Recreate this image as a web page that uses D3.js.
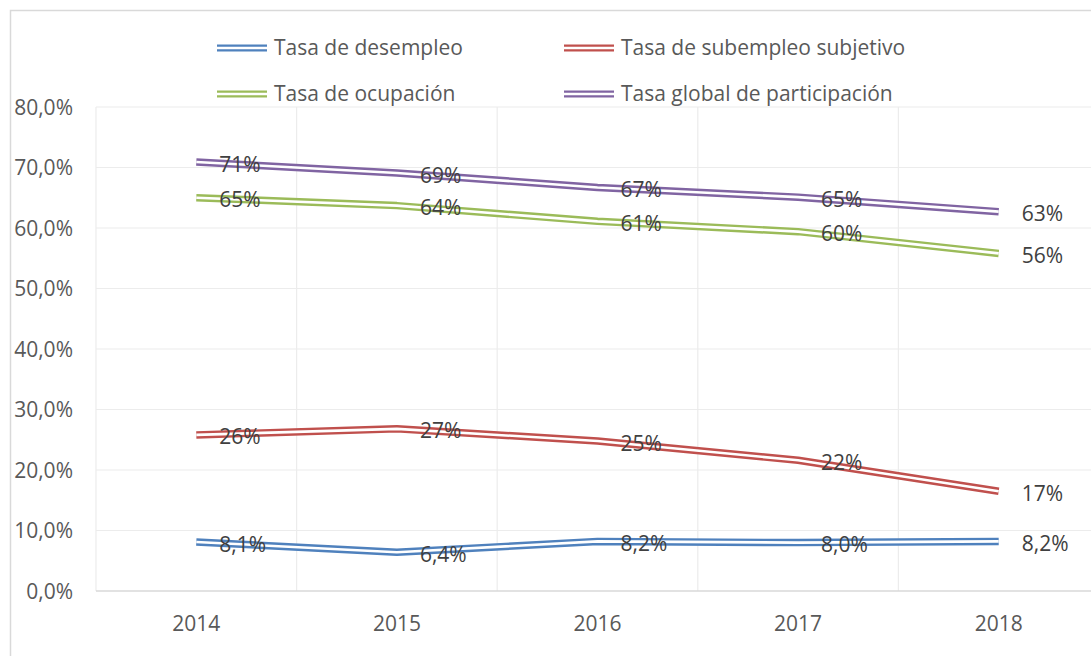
<!DOCTYPE html>
<html><head><meta charset="utf-8">
<script src="https://cdn.jsdelivr.net/npm/d3@7"></script>
<style>html,body{margin:0;padding:0;background:#fff;}svg{display:block;}</style>
</head><body>
<svg id="c" width="1091" height="656"></svg>
<script>
const years = ["2014","2015","2016","2017","2018"];
const desempleo = [8.1, 6.4, 8.2, 8.0, 8.2];
const subempleo = [25.8, 26.8, 24.8, 21.6, 16.5];
const ocupacion = [65.0, 63.7, 61.1, 59.4, 55.8];
const participacion = [70.9, 69.1, 66.7, 65.1, 62.7];
const labelsDesempleo = ["8,1%","6,4%","8,2%","8,0%","8,2%"];
const labelsSubempleo = ["26%","27%","25%","22%","17%"];
const labelsOcupacion = ["65%","64%","61%","60%","56%"];
const labelsParticipacion = ["71%","69%","67%","65%","63%"];
const yTicks = [0,10,20,30,40,50,60,70,80];
const seriesNames = ["Tasa de desempleo","Tasa de subempleo subjetivo","Tasa de ocupación","Tasa global de participación"];
const colors = ["#4f81bd","#c0504d","#9bbb59","#8064a2"];

const series = [
  {name: seriesNames[0], values: desempleo, labels: labelsDesempleo, color: colors[0]},
  {name: seriesNames[1], values: subempleo, labels: labelsSubempleo, color: colors[1]},
  {name: seriesNames[2], values: ocupacion, labels: labelsOcupacion, color: colors[2]},
  {name: seriesNames[3], values: participacion, labels: labelsParticipacion, color: colors[3]}
];

const FONT = "'Open Sans', sans-serif";
const svg = d3.select("#c");
const pLeft = 96, pRight = 1099, pTop = 107, pBottom = 591;

const x = d3.scaleBand().domain(years).range([pLeft, pRight]);
const y = d3.scaleLinear().domain([0, 80]).range([pBottom, pTop]);

// chart border
svg.append("path").attr("d", `M10.5,656 L10.5,10.5 L1091,10.5`)
  .attr("fill","none").attr("stroke","#d9d9d9").attr("stroke-width",1.5);

// horizontal gridlines
svg.append("g").selectAll("line").data(yTicks.filter(d=>d>0)).join("line")
  .attr("x1", pLeft).attr("x2", 1091)
  .attr("y1", d=>y(d)).attr("y2", d=>y(d))
  .attr("stroke","#ececec").attr("stroke-width",1.2);
// vertical gridlines at category boundaries
const bounds = years.map(d=>x(d)).concat([x(years[years.length-1]) + x.bandwidth()]);
svg.append("g").selectAll("line").data(bounds).join("line")
  .attr("x1", d=>d).attr("x2", d=>d)
  .attr("y1", pTop).attr("y2", pBottom)
  .attr("stroke","#ececec").attr("stroke-width",1.2);
// x axis line
svg.append("line").attr("x1", pLeft).attr("x2", 1091).attr("y1", y(0)).attr("y2", y(0))
  .attr("stroke","#d9d9d9").attr("stroke-width",1.3);

// y tick labels
svg.append("g").selectAll("text").data(yTicks).join("text")
  .attr("x", 73).attr("y", d=>y(d)).attr("dy","0.36em")
  .attr("text-anchor","end")
  .attr("font-family", FONT).attr("font-size", 21).attr("fill","#595959")
  .text(d=>d3.format(".1f")(d).replace(".",",")+"%");

// x tick labels
svg.append("g").selectAll("text").data(years).join("text")
  .attr("x", d=>x(d)+x.bandwidth()/2).attr("y", 623).attr("dy","0.36em")
  .attr("text-anchor","middle")
  .attr("font-family", FONT).attr("font-size", 21).attr("fill","#595959")
  .text(d=>d);

// lines (double compound)
const line = d3.line().x((d,i)=>x(years[i])+x.bandwidth()/2).y(d=>y(d));
const g = svg.append("g");
series.forEach(s=>{
  g.append("path").attr("d", line(s.values)).attr("fill","none")
    .attr("stroke", s.color).attr("stroke-width", 7.5).attr("stroke-linejoin","round");
  g.append("path").attr("d", line(s.values)).attr("fill","none")
    .attr("stroke", "#fff").attr("stroke-width", 2.6).attr("stroke-linejoin","round");
});

// data labels
series.forEach(s=>{
  svg.append("g").selectAll("text").data(s.values).join("text")
    .attr("x", (d,i)=>x(years[i])+x.bandwidth()/2 + 23)
    .attr("y", d=>y(d)+2).attr("dy","0.36em")
    .attr("font-family", FONT).attr("font-size", 21).attr("fill","#404040")
    .text((d,i)=>s.labels[i]);
});

// legend
const legendPos = [
  {lx: 217, tx: 274, y: 47},
  {lx: 564, tx: 621, y: 47},
  {lx: 217, tx: 274, y: 93},
  {lx: 564, tx: 621, y: 93}
];
const lg = svg.append("g");
series.forEach((s,i)=>{
  const p = legendPos[i];
  lg.append("line").attr("x1", p.lx).attr("x2", p.lx+50).attr("y1", p.y+1).attr("y2", p.y+1)
    .attr("stroke", s.color).attr("stroke-width", 7);
  lg.append("line").attr("x1", p.lx).attr("x2", p.lx+50).attr("y1", p.y+1).attr("y2", p.y+1)
    .attr("stroke", "#fff").attr("stroke-width", 2.4);
  lg.append("text").attr("x", p.tx).attr("y", p.y).attr("dy","0.36em")
    .attr("font-family", FONT).attr("font-size", 21).attr("fill","#595959")
    .text(s.name);
});
</script>
</body></html>
